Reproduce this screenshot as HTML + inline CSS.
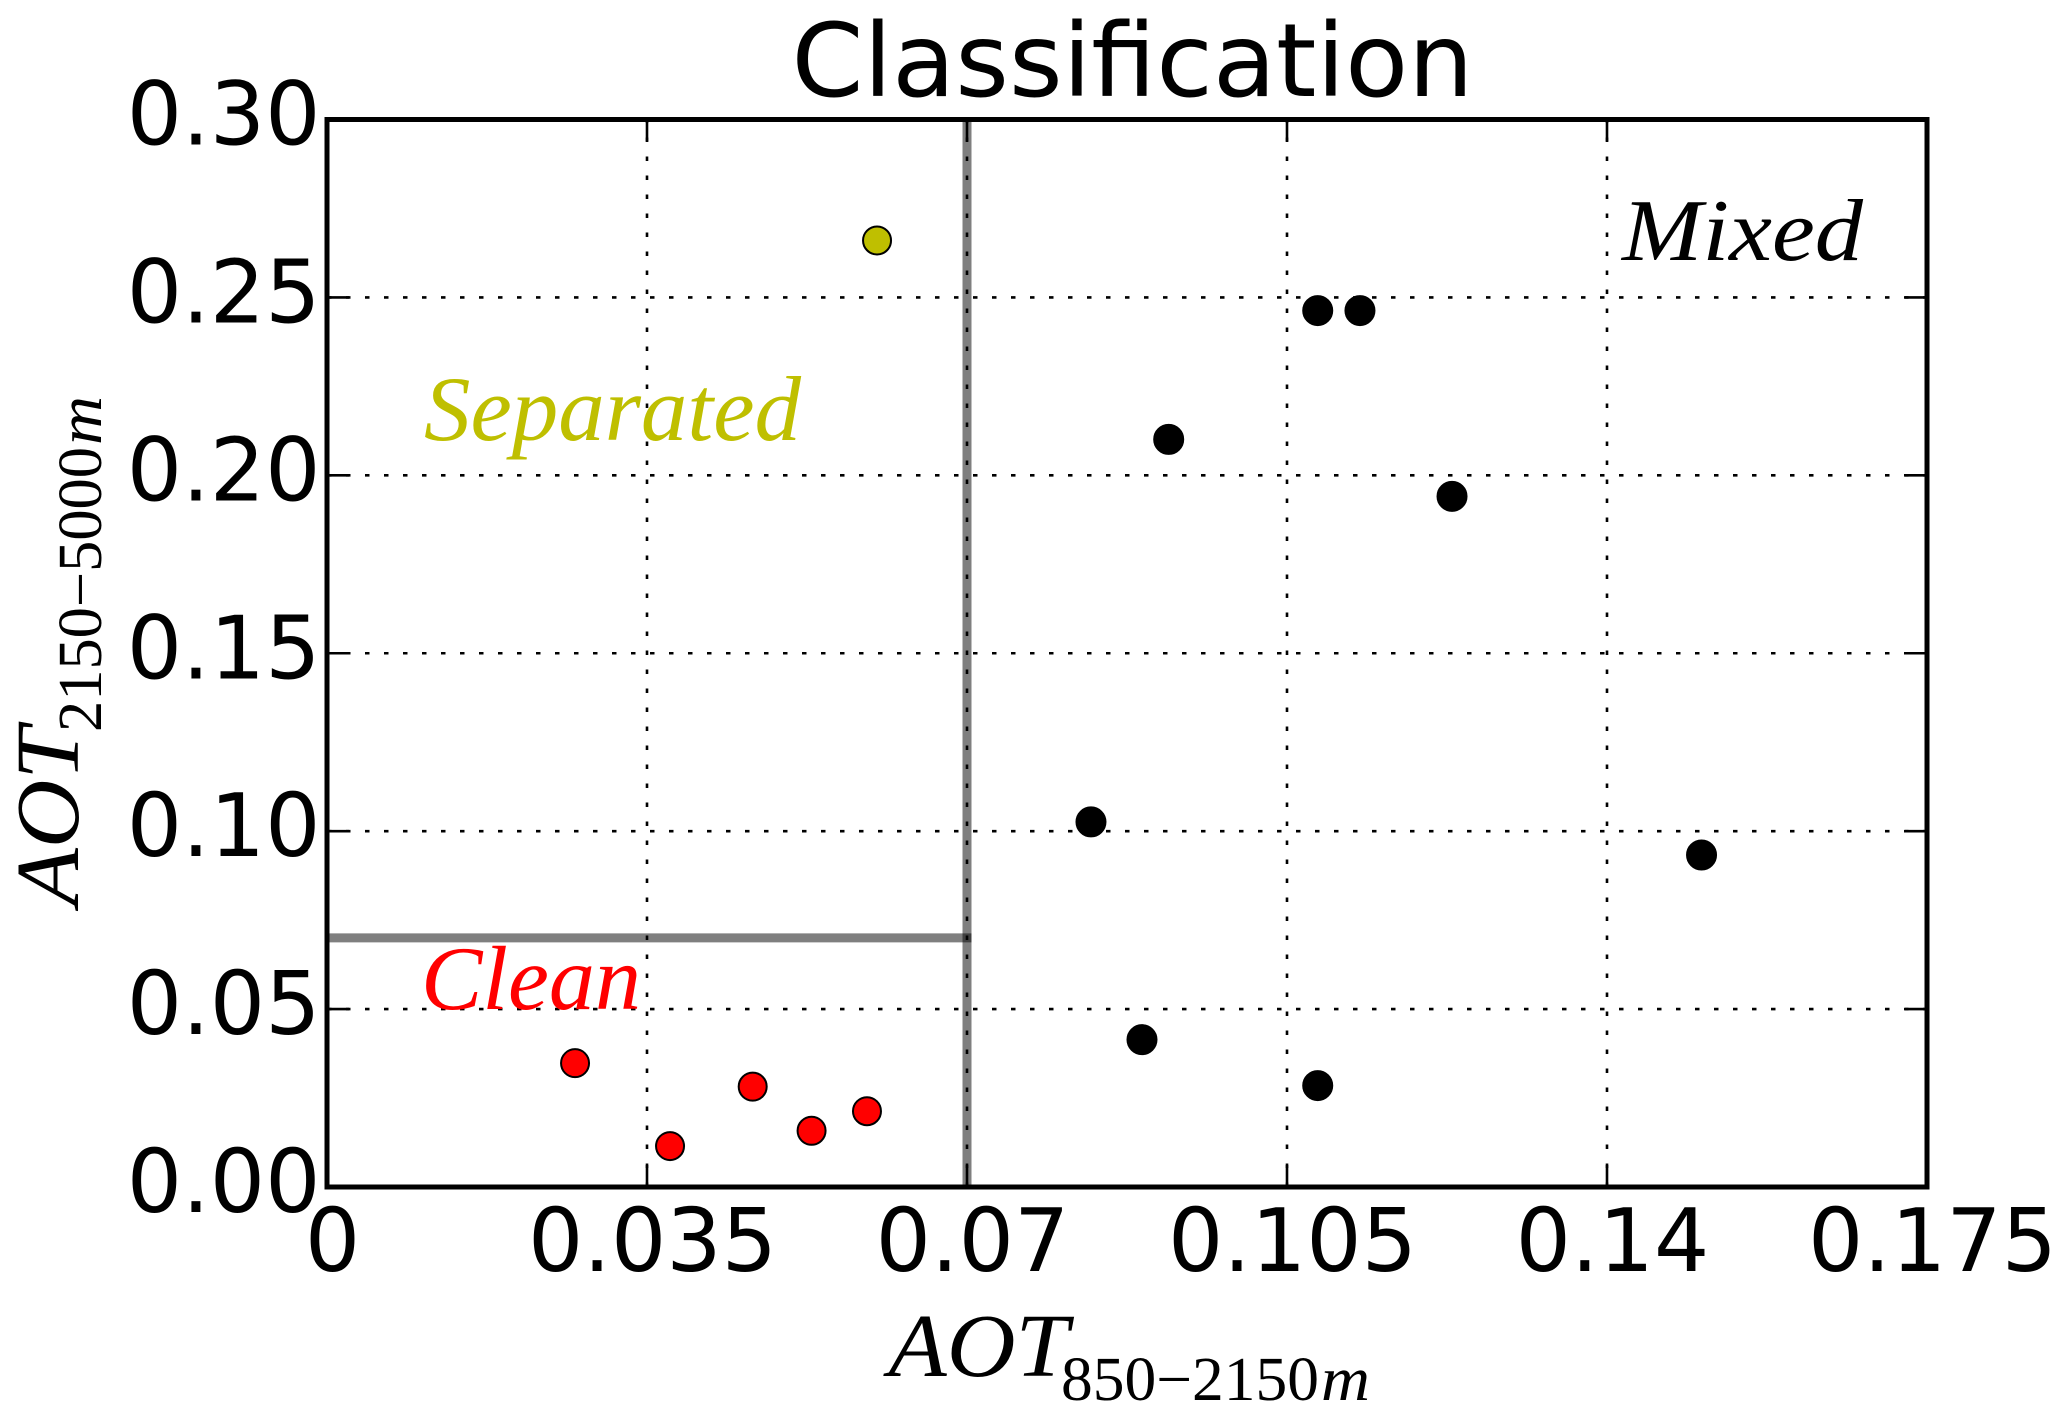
<!DOCTYPE html>
<html lang="en">
<head>
<meta charset="utf-8">
<title>Classification</title>
<style>
html,body{margin:0;padding:0;background:#fff;}
svg{display:block;}
.tick-label{font-family:"DejaVu Sans",sans-serif;font-size:87px;fill:#000;}
.math{font-family:"Liberation Serif",serif;font-style:italic;}
.sub{font-family:"Liberation Serif",serif;}
</style>
</head>
<body>
<svg id="chart" xmlns="http://www.w3.org/2000/svg" width="2067" height="1416" viewBox="0 0 2067 1416">
  <rect x="0" y="0" width="2067" height="1416" fill="#fff"/>
  <g id="grid"></g>
  <g id="ticks"></g>
  <g id="thresholds"></g>
  <g id="points"></g>
  <rect x="327" y="119.5" width="1600" height="1067.5" fill="none" stroke="#000" stroke-width="5"/>
  <g id="labels"></g>
  <text x="791.5" y="96" font-family="'DejaVu Sans',sans-serif" font-size="102" fill="#000" textLength="682" lengthAdjust="spacingAndGlyphs">Classification</text>
  <text class="math" x="424" y="440" font-size="92" fill="#bfbf00" textLength="377" lengthAdjust="spacingAndGlyphs">Separated</text>
  <text class="math" x="1622" y="260" font-size="88" fill="#000" textLength="241" lengthAdjust="spacingAndGlyphs">Mixed</text>
  <text class="math" x="421" y="1009" font-size="91" fill="#f00" textLength="220" lengthAdjust="spacingAndGlyphs">Clean</text>
  <g>
    <text class="math" x="888.5" y="1376" font-size="90" fill="#000" textLength="180" lengthAdjust="spacingAndGlyphs">AOT</text>
    <text class="sub" x="1061" y="1400" font-size="62" fill="#000" textLength="258" lengthAdjust="spacingAndGlyphs">850−2150</text>
    <text class="math" x="1321" y="1400" font-size="62" fill="#000" textLength="49" lengthAdjust="spacingAndGlyphs">m</text>
  </g>
  <g>
    <text class="math" transform="translate(78 906) rotate(-90)" x="0" y="0" font-size="90" fill="#000" textLength="179" lengthAdjust="spacingAndGlyphs">AOT</text>
    <text class="sub" transform="translate(101 732) rotate(-90)" x="0" y="0" font-size="62" fill="#000" textLength="285" lengthAdjust="spacingAndGlyphs">2150−5000</text>
    <text class="math" transform="translate(101 445) rotate(-90)" x="0" y="0" font-size="62" fill="#000" textLength="49" lengthAdjust="spacingAndGlyphs">m</text>
  </g>
</svg>
<script>
const xTicks = [0, 0.035, 0.07, 0.105, 0.14, 0.175];
const xTickLabels = ['0', '0.035', '0.07', '0.105', '0.14', '0.175'];
const yTicks = [0, 0.05, 0.10, 0.15, 0.20, 0.25, 0.30];
const yTickLabels = ['0.00', '0.05', '0.10', '0.15', '0.20', '0.25', '0.30'];
const cleanX = [0.02713, 0.03752, 0.04656, 0.0530, 0.05906];
const cleanY = [0.0348, 0.0115, 0.0282, 0.0158, 0.0213];
const separatedX = [0.06016];
const separatedY = [0.2660];
const mixedX = [0.10836, 0.11298, 0.09206, 0.12305, 0.08356, 0.15034, 0.08914, 0.10836];
const mixedY = [0.2463, 0.2463, 0.2101, 0.1941, 0.1026, 0.0933, 0.0414, 0.0285];
const thresholdX = 0.07;
const thresholdY = 0.07;

const NS = 'http://www.w3.org/2000/svg';
const plot = {left: 327, right: 1927, top: 119.5, bottom: 1187};
const xMax = 0.175;
const yMax = 0.30;
function xScale(v) { return plot.left + (v / xMax) * (plot.right - plot.left); }
function yScale(v) { return plot.bottom - (v / yMax) * (plot.bottom - plot.top); }
function make(tag, parent, attrs) {
  const el = document.createElementNS(NS, tag);
  for (const k in attrs) el.setAttribute(k, attrs[k]);
  parent.appendChild(el);
  return el;
}
const gridG = document.getElementById('grid');
const ticksG = document.getElementById('ticks');
const labelsG = document.getElementById('labels');
const lineG = document.getElementById('thresholds');
const pointsG = document.getElementById('points');
const tickLen = 22;

xTicks.forEach(function (v, i) {
  const x = xScale(v);
  if (i > 0 && i < xTicks.length - 1) {
    const g = make('line', gridG, {x1: x, x2: x, y1: plot.bottom, y2: plot.top, stroke: '#000', 'stroke-width': 2.6, 'stroke-dasharray': '4.5 14.5'});
    
    
    const t1 = make('line', ticksG, {x1: x, x2: x, y1: plot.bottom, y2: plot.bottom - tickLen, stroke: '#000', 'stroke-width': 2.6});
    
    
    const t2 = make('line', ticksG, {x1: x, x2: x, y1: plot.top, y2: plot.top + tickLen, stroke: '#000', 'stroke-width': 2.6});
    
    
  }
  const lab = make('text', labelsG, {x: x + 5.5, y: 1271, 'text-anchor': 'middle', class: 'tick-label'});
  lab.textContent = xTickLabels[i];
  
  
});

yTicks.forEach(function (v, i) {
  const y = yScale(v);
  if (i > 0 && i < yTicks.length - 1) {
    const g = make('line', gridG, {x1: plot.left, x2: plot.right, y1: y, y2: y, stroke: '#000', 'stroke-width': 2.6, 'stroke-dasharray': '4.5 14.5'});
    
    
    const t1 = make('line', ticksG, {x1: plot.left, x2: plot.left + tickLen, y1: y, y2: y, stroke: '#000', 'stroke-width': 2.6});
    
    
    const t2 = make('line', ticksG, {x1: plot.right, x2: plot.right - tickLen, y1: y, y2: y, stroke: '#000', 'stroke-width': 2.6});
    
    
  }
  const lab = make('text', labelsG, {x: 320.5, y: y + 25, 'text-anchor': 'end', class: 'tick-label'});
  lab.textContent = yTickLabels[i];
  
  
});

const hLine = make('line', lineG, {x1: xScale(0), x2: xScale(thresholdX) + 4.5, y1: yScale(thresholdY), y2: yScale(thresholdY), stroke: '#000', 'stroke-opacity': 0.5, 'stroke-width': 9});


const vLine = make('line', lineG, {x1: xScale(thresholdX), x2: xScale(thresholdX), y1: yScale(0), y2: yScale(yMax), stroke: '#000', 'stroke-opacity': 0.5, 'stroke-width': 9});



cleanX.forEach(function (v, i) {
  const c = make('circle', pointsG, {cx: xScale(v), cy: yScale(cleanY[i]), r: 14, fill: '#f00', stroke: '#000', 'stroke-width': 2});
  
  
});
separatedX.forEach(function (v, i) {
  const c = make('circle', pointsG, {cx: xScale(v), cy: yScale(separatedY[i]), r: 14, fill: '#bfbf00', stroke: '#000', 'stroke-width': 2});
  
  
});
mixedX.forEach(function (v, i) {
  const c = make('circle', pointsG, {cx: xScale(v), cy: yScale(mixedY[i]), r: 14.5, fill: '#000', stroke: '#000', 'stroke-width': 2});
  
  
});
</script>
</body>
</html>
